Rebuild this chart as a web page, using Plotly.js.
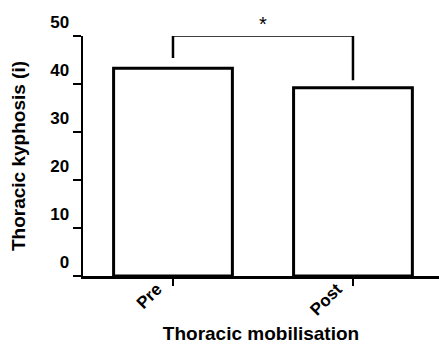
<!DOCTYPE html>
<html>
<head>
<meta charset="utf-8">
<script src="https://cdn.plot.ly/plotly-3.0.1.min.js"></script>
<style>html,body{margin:0;padding:0;background:#fff;}#chart{width:439px;height:344px;}</style>
</head>
<body>
<div id="chart"></div>
<script>
const categories = ["Pre", "Post"];
const kyphosis = [43.3, 39.2];
const yTicks = [0, 10, 20, 30, 40, 50];
const yRange = [0, 50];
const bracketX = [0, 0, 1, 1];
const bracketY = [45.4, 50.1, 50.1, 40.8];
const sigLabel = "*";
const sigY = 55.3;

const fontBase = {family: "Liberation Sans, Arial, sans-serif", color: "#000", weight: "bold"};

const traces = [
  {
    type: "bar",
    x: [0, 1],
    y: kyphosis,
    marker: {color: "#fff", line: {color: "#000", width: 3}},
    hoverinfo: "skip"
  },
  {
    type: "scatter",
    mode: "lines",
    x: bracketX,
    y: bracketY,
    line: {color: "#000", width: 2.5},
    cliponaxis: false,
    hoverinfo: "skip"
  }
];

const layout = {
  width: 439,
  height: 344,
  margin: {l: 83, r: 0, t: 36, b: 68},
  paper_bgcolor: "#fff",
  plot_bgcolor: "#fff",
  showlegend: false,
  bargap: 0.34,
  xaxis: {
    range: [-0.5, 1.478],
    tickmode: "array",
    tickvals: [0, 1],
    ticktext: categories,
    tickangle: -45,
    ticks: "outside",
    ticklen: 7,
    tickwidth: 2,
    tickcolor: "#000",
    ticklabelshift: -16,
    ticklabelstandoff: -13,
    showline: true,
    linewidth: 2.5,
    linecolor: "#000",
    showgrid: false,
    zeroline: false,
    tickfont: Object.assign({size: 17}, fontBase),
    title: {text: "Thoracic mobilisation", font: Object.assign({size: 19}, fontBase), standoff: 38},
    fixedrange: true
  },
  yaxis: {
    range: yRange,
    tickmode: "array",
    tickvals: yTicks,
    ticks: "outside",
    ticklen: 8,
    tickwidth: 2,
    tickcolor: "#000",
    ticklabelshift: -14,
    showline: true,
    linewidth: 2.5,
    linecolor: "#000",
    showgrid: false,
    zeroline: false,
    tickfont: Object.assign({size: 17}, fontBase),
    title: {text: "Thoracic kyphosis (i)", font: Object.assign({size: 19}, fontBase), standoff: 20},
    fixedrange: true
  },
  annotations: [
    {x: 0.5, y: sigY / yRange[1], xref: "x", yref: "paper", text: sigLabel, showarrow: false,
     font: {family: "Liberation Sans, Arial, sans-serif", size: 20, color: "#000"}}
  ]
};

Plotly.newPlot("chart", traces, layout, {displayModeBar: false, staticPlot: true});
</script>
</body>
</html>
